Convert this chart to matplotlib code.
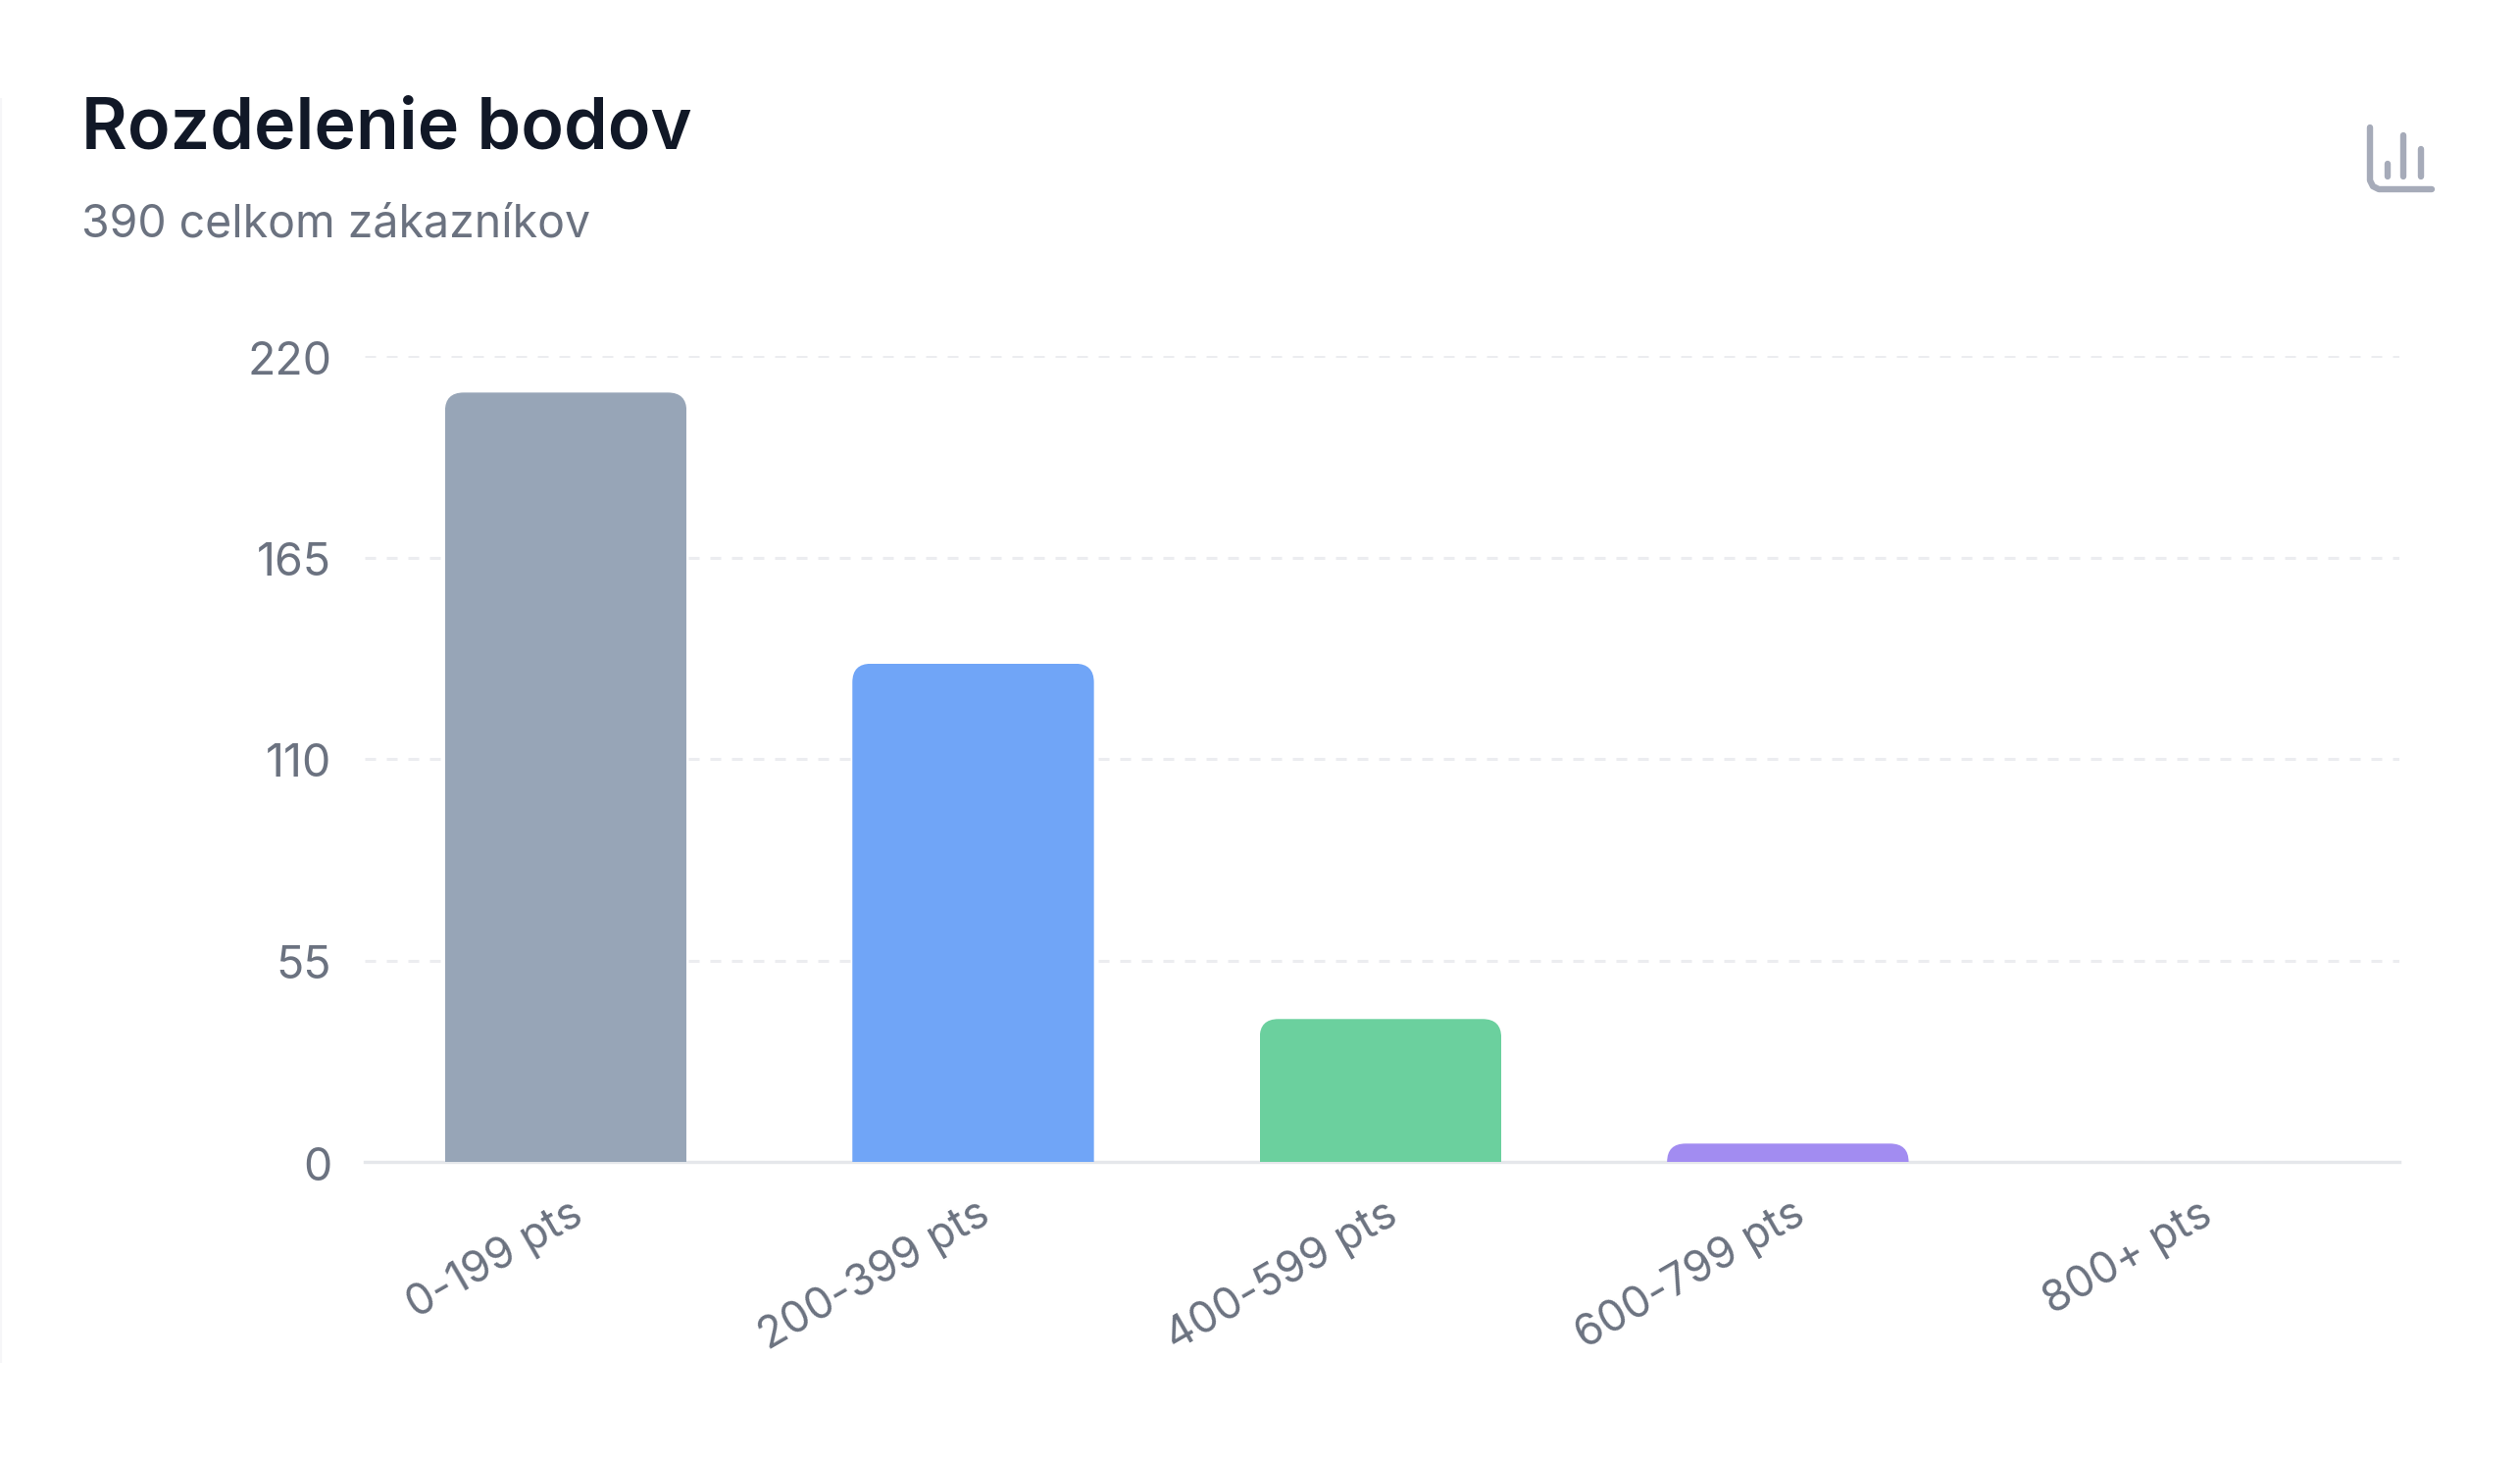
import matplotlib
matplotlib.use("Agg")
import matplotlib.pyplot as plt
from matplotlib.lines import Line2D
from matplotlib.path import Path
from matplotlib.transforms import ScaledTranslation

categories = ["0-199 pts", "200-399 pts", "400-599 pts", "600-799 pts", "800+ pts"]
values = [210, 136, 39, 5, 0]
bar_colors = ["#97A5B7", "#70A5F7", "#6BD09E", "#A28CF1", "#F2B84B"]
y_ticks = [0, 55, 110, 165, 220]
title = "Rozdelenie bodov"
subtitle = "390 celkom zákazníkov"

W, H = 2570, 1488
plt.rcParams["font.family"] = ["Inter", "DejaVu Sans"]
fig = plt.figure(figsize=(W / 100, H / 100), dpi=100, facecolor="white")
L, R, T, B = 372, 2446.5, 363, 1185
ax = fig.add_axes([L / W, 1 - B / H, (R - L) / W, (B - T) / H])
ax.set_xlim(-0.4935, 4.5)
ax.set_ylim(0, 220)
ax.set_facecolor("none")

for s in ["top", "right", "left"]:
    ax.spines[s].set_visible(False)
ax.spines["bottom"].set_color("#E5E7EB")
ax.spines["bottom"].set_linewidth(2.4)
ax.spines["bottom"].set_zorder(1)

ax.set_yticks(y_ticks)
ax.set_xticks(range(len(categories)))
ax.set_xticklabels(categories)
ax.tick_params(axis="y", length=0, pad=24.4, labelsize=33.5, labelcolor="#6B7280")
ax.tick_params(axis="x", length=0, pad=23, labelsize=32, labelcolor="#6B7280")
for lab in ax.get_xticklabels():
    lab.set_rotation(30)
    lab.set_ha("right")
    lab.set_va("top")
    lab.set_rotation_mode("anchor")
    lab.set_transform(lab.get_transform() + ScaledTranslation(3 / 100, 0, fig.dpi_scale_trans))
for lab in ax.get_yticklabels():
    lab.set_transform(lab.get_transform() + ScaledTranslation(0, -1.5 / 100, fig.dpi_scale_trans))

ax.grid(axis="y", color="#ECEDF0", linewidth=2.2, linestyle=(0, (3.6, 3.6)), zorder=0)
ax.grid(axis="x", visible=False)
ax.set_axisbelow(True)

bars = ax.bar(range(len(values)), values, width=0.593, color=bar_colors, linewidth=0, zorder=2)

px_x = (R - L) / 4.9935
px_y = (B - T) / 220.0
rad = 19.0
for b in bars:
    x0, w, h = b.get_x(), b.get_width(), b.get_height()
    if h <= 0:
        continue
    rx, ry = rad / px_x, min(rad / px_y, h)
    verts = [(x0, -5), (x0, h - ry), (x0, h), (x0 + rx, h),
             (x0 + w - rx, h), (x0 + w, h), (x0 + w, h - ry),
             (x0 + w, -5), (x0, -5)]
    codes = [Path.MOVETO, Path.LINETO, Path.CURVE3, Path.CURVE3,
             Path.LINETO, Path.CURVE3, Path.CURVE3, Path.LINETO, Path.CLOSEPOLY]
    b.set_clip_path(Path(verts, codes), ax.transData)

fig.text(83 / W, 1 - 152 / H, title, fontsize=51.7, fontweight="semibold", color="#111827", va="baseline", ha="left")
fig.text(83 / W, 1 - 241 / H, subtitle, fontsize=33.4, color="#6B7280", va="baseline", ha="left")


def fig_line(xs, ys, color, lw, cap="round"):
    line = Line2D([x / W for x in xs], [1 - y / H for y in ys], transform=fig.transFigure,
                  color=color, linewidth=lw, solid_capstyle=cap, solid_joinstyle="round")
    fig.add_artist(line)


icon = "#A6ABB9"
fig_line([2417, 2417, 2420, 2426, 2480], [130, 184, 190, 193, 193], icon, 4.6)
fig_line([2435, 2435], [167, 180], icon, 4.6)
fig_line([2451, 2451], [138, 180], icon, 4.6)
fig_line([2469, 2469], [152, 180], icon, 4.6)
fig_line([1, 1], [100, 1390], "#F6F6F8", 1.5, cap="butt")

fig.savefig("out.png", dpi=100, facecolor="white")
